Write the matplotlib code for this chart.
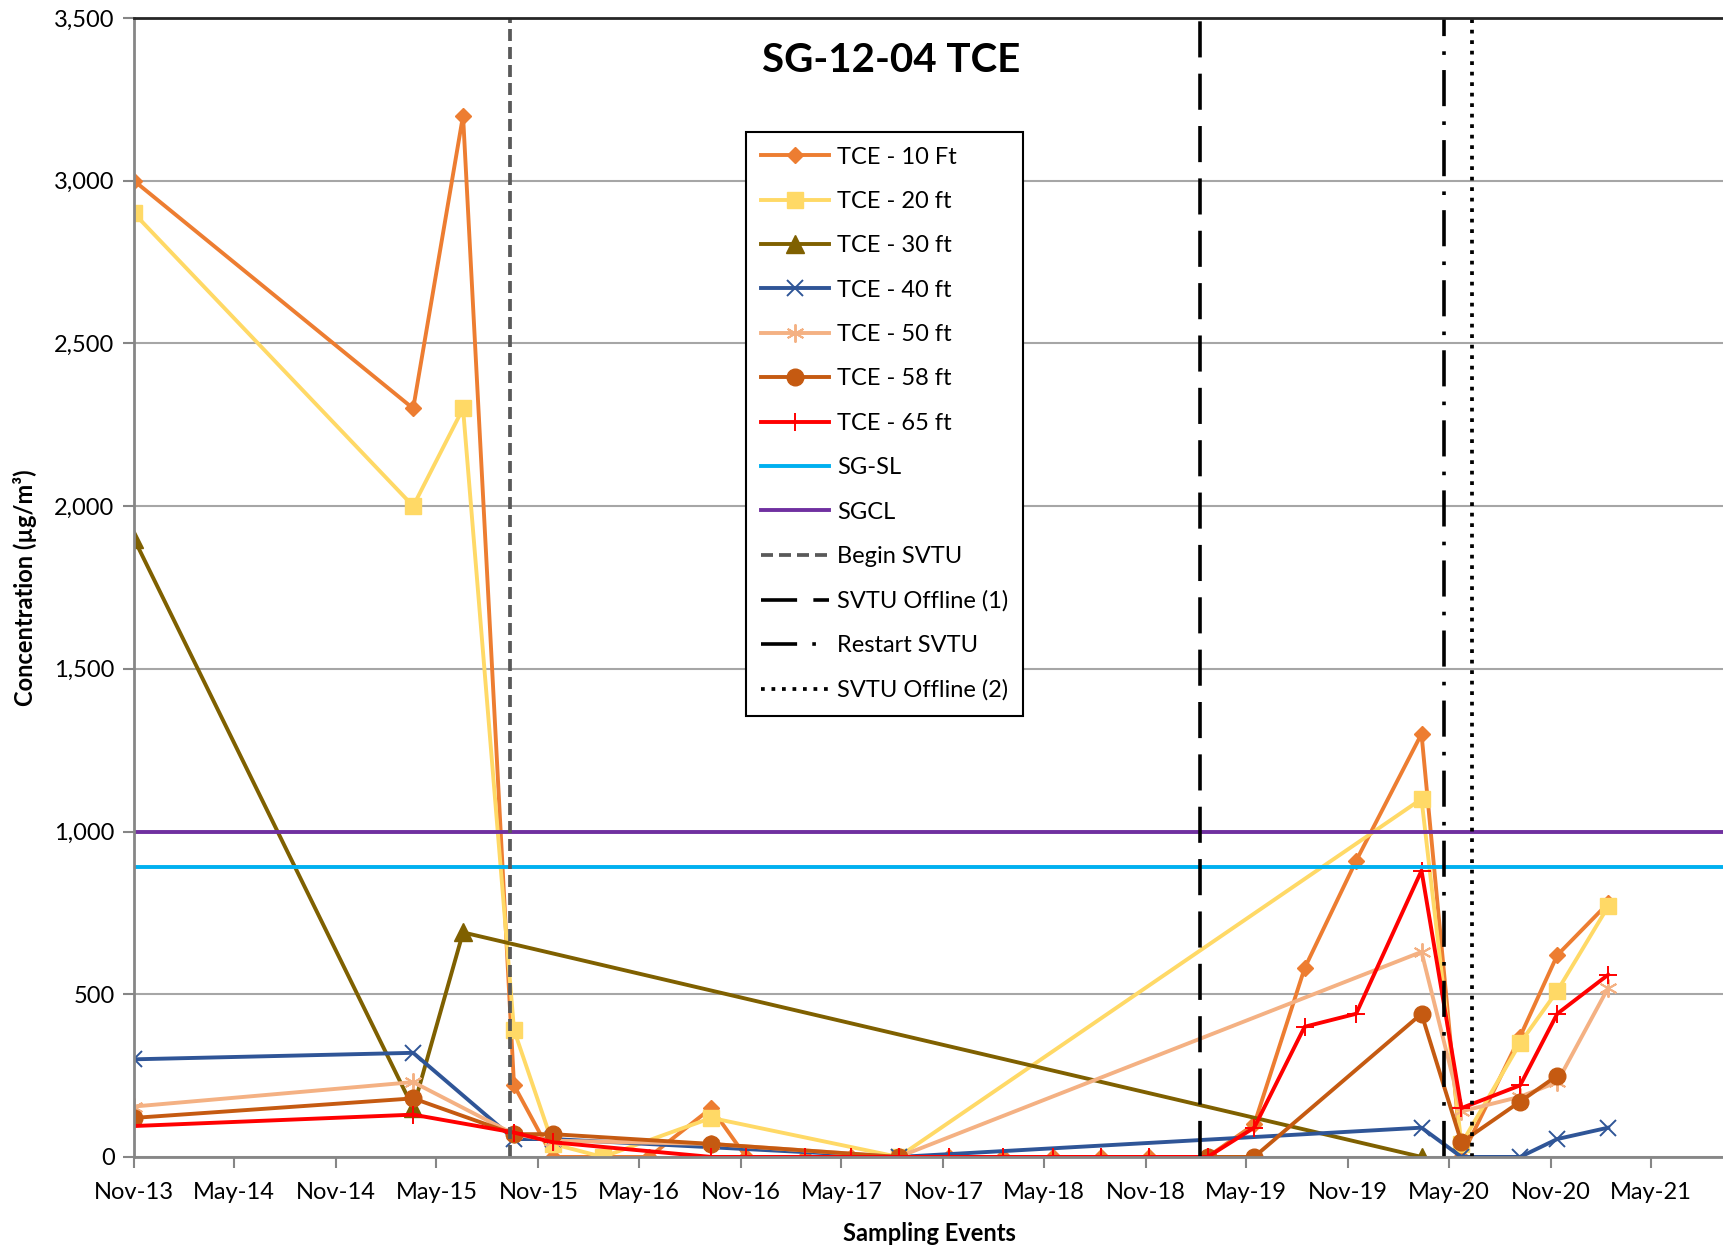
import matplotlib
matplotlib.use('Agg')
import matplotlib.pyplot as plt
import matplotlib.dates as mdates
import matplotlib.ticker as mticker
import pandas as pd

plt.rcParams['font.family'] = ['Lato', 'DejaVu Sans']

# 采样日期与数据
tce10_dates = ['2013-11-01', '2015-03-20', '2015-06-18', '2015-09-18', '2015-11-27', '2016-05-19',
               '2016-09-08', '2016-11-10', '2017-02-24', '2017-05-18', '2017-08-12', '2017-11-12',
               '2018-02-16', '2018-05-17', '2018-08-12', '2018-11-08', '2019-02-21', '2019-05-16',
               '2019-08-15', '2019-11-16', '2020-03-13', '2020-05-24', '2020-09-07', '2020-11-13',
               '2021-02-13']
tce10 = [3000, 2300, 3200, 220, 0, 0, 150, 0, 0, 0, 0, 0, 0, 0, 0, 0, 0, 100, 580, 910, 1300, 0, 370, 620, 780]

tce20_dates = ['2013-11-01', '2015-03-20', '2015-06-18', '2015-09-18', '2015-11-27', '2016-02-25',
               '2016-09-08', '2017-08-12', '2020-03-13', '2020-05-24', '2020-09-07', '2020-11-13',
               '2021-02-13']
tce20 = [2900, 2000, 2300, 390, 40, 0, 120, 0, 1100, 40, 350, 510, 770]

tce30_dates = ['2013-11-01', '2015-03-20', '2015-06-18', '2020-03-13']
tce30 = [1900, 150, 690, 0]

tce40_dates = ['2013-11-01', '2015-03-20', '2015-09-18', '2015-11-27', '2017-08-12', '2020-03-13',
               '2020-05-24', '2020-09-07', '2020-11-13', '2021-02-13']
tce40 = [300, 320, 55, 55, 0, 90, 0, 0, 55, 90]

tce50_dates = ['2013-11-01', '2015-03-20', '2015-09-18', '2015-11-27', '2016-09-08', '2017-08-12',
               '2020-03-13', '2020-05-24', '2020-09-07', '2020-11-13', '2021-02-13']
tce50 = [155, 230, 70, 50, 40, 0, 630, 140, 185, 230, 520]

tce58_dates = ['2013-11-01', '2015-03-20', '2015-09-18', '2015-11-27', '2016-09-08', '2017-08-12',
               '2019-02-21', '2019-05-16', '2020-03-13', '2020-05-24', '2020-09-07', '2020-11-13']
tce58 = [120, 180, 70, 70, 40, 0, 0, 0, 440, 45, 170, 250]

tce65_dates = ['2013-11-01', '2015-03-20', '2015-09-18', '2015-11-27', '2016-09-08', '2016-11-10',
               '2017-02-24', '2017-05-18', '2017-08-12', '2017-11-12', '2018-02-16', '2018-05-17',
               '2018-08-12', '2018-11-08', '2019-02-21', '2019-05-16', '2019-08-15', '2019-11-16',
               '2020-03-13', '2020-05-24', '2020-09-07', '2020-11-13', '2021-02-13']
tce65 = [95, 130, 75, 45, 0, 0, 0, 0, 0, 0, 0, 0, 0, 0, 0, 90, 400, 440, 880, 150, 220, 440, 560]

# 筛选值
sg_sl = 890
sgcl = 1000

# 事件日期
begin_svtu = '2015-09-10'
offline_1 = '2019-02-07'
restart_svtu = '2020-04-22'
offline_2 = '2020-06-12'

x_start = '2013-11-01'
x_end = '2021-09-10'

# 画布与坐标轴
fig = plt.figure(figsize=(17.24, 12.49), dpi=100)
ax = fig.add_axes([0.0777, 0.0737, 0.9223, 0.9119])

d = pd.to_datetime

# 画各深度的曲线
ax.plot(d(tce10_dates), tce10, color='#ED7D31', lw=2.8, marker='D', ms=8, label='TCE - 10 Ft')
ax.plot(d(tce20_dates), tce20, color='#FFD966', lw=2.8, marker='s', ms=12, label='TCE - 20 ft')
ax.plot(d(tce30_dates), tce30, color='#7F6000', lw=2.8, marker='^', ms=13, label='TCE - 30 ft')
ax.plot(d(tce40_dates), tce40, color='#2F5597', lw=2.8, marker='x', ms=12, mew=1.4, label='TCE - 40 ft')
ax.plot(d(tce50_dates), tce50, color='#F4B183', lw=2.8, marker=(6, 2, 0), ms=13, mew=1.4, label='TCE - 50 ft')
ax.plot(d(tce58_dates), tce58, color='#C55A11', lw=2.8, marker='o', ms=12, label='TCE - 58 ft')
ax.plot(d(tce65_dates), tce65, color='#FF0000', lw=2.8, marker='+', ms=13, mew=1.4, label='TCE - 65 ft')

# 水平筛选线
ax.axhline(sg_sl, color='#00B0F0', lw=2.8, label='SG-SL')
ax.axhline(sgcl, color='#7030A0', lw=2.8, label='SGCL')

# 竖直事件线
ax.axvline(d(begin_svtu), color='#595959', lw=2.7, dashes=(3.2, 1.6), label='Begin SVTU')
ax.axvline(d(offline_1), color='black', lw=2.6, dashes=(10, 4.5), label='SVTU Offline (1)')
ax.axvline(d(restart_svtu), color='black', lw=2.6, dashes=(10, 4.2, 1, 4.2), label='Restart SVTU')
ax.axvline(d(offline_2), color='black', lw=2.7, dashes=(1, 1.8), label='SVTU Offline (2)')

# 坐标范围与刻度
ax.set_xlim(d(x_start), d(x_end))
ax.set_ylim(0, 3500)
ax.yaxis.set_major_locator(mticker.MultipleLocator(500))
ax.yaxis.set_major_formatter(mticker.FuncFormatter(lambda v, p: f'{int(v):,}'))
ax.xaxis.set_major_locator(mdates.MonthLocator(bymonth=[5, 11]))
ax.xaxis.set_major_formatter(mdates.DateFormatter('%b-%y'))
ax.tick_params(axis='both', which='major', labelsize=17, length=8, width=1.5, color='#868686', pad=6)
ax.tick_params(axis='x', pad=10)
ax.grid(axis='y', color='#A6A6A6', lw=1.5)
ax.set_axisbelow(True)

for side in ['left', 'bottom']:
    ax.spines[side].set_color('#868686')
    ax.spines[side].set_linewidth(2)
ax.spines['top'].set_color('#262626')
ax.spines['top'].set_linewidth(2)
ax.spines['right'].set_visible(False)

# 标题和标签
ax.text(0.476, 0.963, 'SG-12-04 TCE', transform=ax.transAxes, ha='center', va='center',
        fontsize=29, fontweight='bold')
ax.set_xlabel('Sampling Events', fontsize=17, fontweight='bold', labelpad=14)
ax.set_ylabel('Concentration (µg/m³)', fontsize=17, fontweight='bold', labelpad=12)

# 图例
leg = ax.legend(loc='upper left', bbox_to_anchor=(0.385, 0.900), borderaxespad=0, fontsize=17,
                handlelength=2.9, handletextpad=0.35, labelspacing=0.99, fancybox=False,
                framealpha=1, edgecolor='black', borderpad=0.62)
leg.get_frame().set_linewidth(1.5)

plt.savefig('out.png', dpi=100)
